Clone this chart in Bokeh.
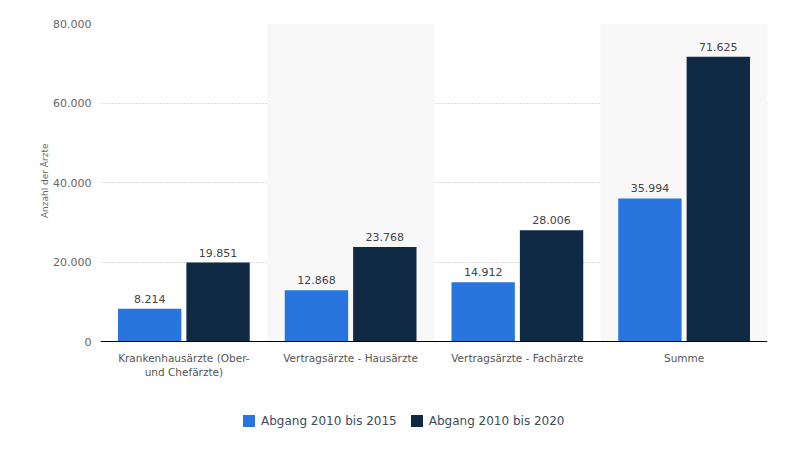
from bokeh.plotting import figure
from bokeh.models import (ColumnDataSource, Range1d, FixedTicker, BoxAnnotation,
                          CustomJSTickFormatter, Legend, LegendItem, Title)
from bokeh.core.properties import value
from bokeh.embed import file_html
from bokeh.resources import INLINE

categories = ["Krankenhausärzte (Ober-\nund Chefärzte)", "Vertragsärzte - Hausärzte",
              "Vertragsärzte - Fachärzte", "Summe"]
abgang_2015 = [8214, 12868, 14912, 35994]
abgang_2020 = [19851, 23768, 28006, 71625]
series_names = ["Abgang 2010 bis 2015", "Abgang 2010 bis 2020"]
y_ticks = [0, 20000, 40000, 60000, 80000]
y_title = "Anzahl der Ärzte"

def fmt(v):
    return f"{v:,}".replace(",", ".")

xc = [i + 0.5 for i in range(len(categories))]
off = 0.205
bw = 0.38

src1 = ColumnDataSource(dict(x=[c - off for c in xc], top=abgang_2015,
                             lab=[fmt(v) for v in abgang_2015]))
src2 = ColumnDataSource(dict(x=[c + off for c in xc], top=abgang_2020,
                             lab=[fmt(v) for v in abgang_2020]))

Y_MAX = 80000
PLOT_H = 318          # pixel height of the value area (0..Y_MAX)
FRAME_H = 405         # frame extends below zero to hold labels and legend
y_min = -(FRAME_H - PLOT_H) * Y_MAX / PLOT_H

p = figure(frame_width=667, frame_height=FRAME_H, output_backend="svg", toolbar_location=None,
           x_range=Range1d(0, 4), y_range=Range1d(y_min, Y_MAX),
           min_border_left=100, min_border_right=14, min_border_top=23,
           min_border_bottom=0)
p.outline_line_color = None
p.background_fill_color = "white"

for i in range(len(categories)):
    if i % 2 == 1:
        p.add_layout(BoxAnnotation(left=i, right=i + 1, bottom=0, top=Y_MAX,
                                   fill_color="#f8f8f8", fill_alpha=1,
                                   line_color=None, level="underlay"))

r1 = p.vbar(x="x", top="top", bottom=0, width=bw, source=src1, color="#2876dd", line_color=None)
r2 = p.vbar(x="x", top="top", bottom=0, width=bw, source=src2, color="#0f2a42", line_color=None)

for s in (src1, src2):
    p.text(x="x", y="top", text="lab", source=s, text_align="center",
           text_baseline="bottom", y_offset=-6, text_font=value("DejaVu Sans"),
           text_font_size="11px", text_color="#444444")

p.xaxis.fixed_location = 0
p.xaxis.ticker = FixedTicker(ticks=xc)
p.xaxis.major_label_overrides = {c: lab for c, lab in zip(xc, categories)}
p.xaxis.major_tick_line_color = None
p.xaxis.major_tick_out = 0
p.xaxis.major_tick_in = 0
p.xaxis.minor_tick_line_color = None
p.xaxis.axis_line_color = "#000000"
p.xaxis.axis_line_width = 1
p.xaxis.major_label_text_font = "DejaVu Sans"
p.xaxis.major_label_text_font_size = "10.5px"
p.xaxis.major_label_text_color = "#555555"
p.xaxis.major_label_standoff = 10

p.yaxis.ticker = FixedTicker(ticks=y_ticks)
p.yaxis.formatter = CustomJSTickFormatter(
    code="return tick.toFixed(0).replace(/\\B(?=(\\d{3})+(?!\\d))/g, '.');")
p.yaxis.axis_line_color = None
p.yaxis.major_tick_line_color = None
p.yaxis.major_tick_out = 0
p.yaxis.major_tick_in = 0
p.yaxis.minor_tick_line_color = None
p.yaxis.major_label_text_font = "DejaVu Sans"
p.yaxis.major_label_text_font_size = "11px"
p.yaxis.major_label_text_color = "#666666"
p.yaxis.major_label_standoff = 9

p.add_layout(Title(text=y_title, align="right", offset=120, standoff=2,
                   text_font="DejaVu Sans", text_font_size="9px",
                   text_font_style="normal", text_color="#666666"), "left")

p.xgrid.grid_line_color = None
p.ygrid.grid_line_color = "#bbbbbb"
p.ygrid.grid_line_dash = "1 2"
p.ygrid.ticker = FixedTicker(ticks=y_ticks[1:])

legend = Legend(items=[LegendItem(label=series_names[0], renderers=[r1]),
                       LegendItem(label=series_names[1], renderers=[r2])],
                orientation="horizontal", location=(141, 0),
                label_text_font="DejaVu Sans", label_text_font_size="12px",
                label_text_color="#3a4a5a", glyph_width=15, glyph_height=15,
                spacing=12, border_line_color=None, background_fill_alpha=0,
                margin=0, padding=0)
p.add_layout(legend, "center")

open("out.html", "w").write(file_html(p, INLINE))
